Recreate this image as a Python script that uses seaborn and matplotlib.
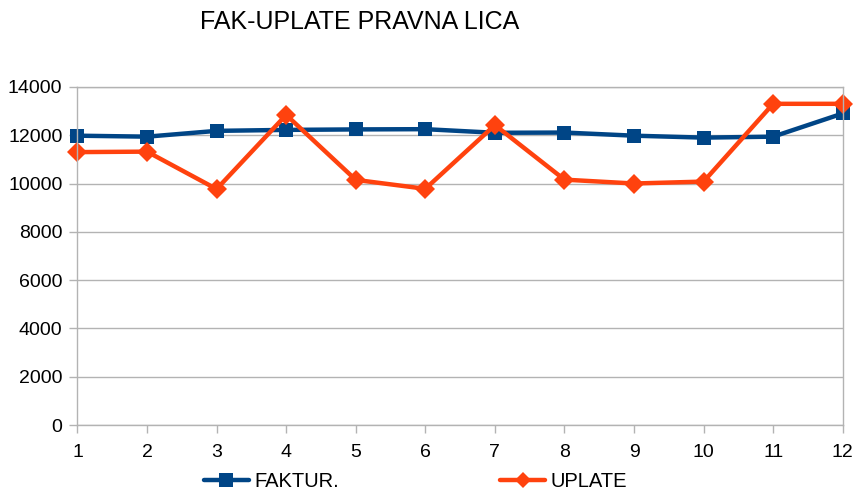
import matplotlib
matplotlib.use("Agg")
import matplotlib.pyplot as plt
import seaborn as sns
import pandas as pd
from matplotlib.lines import Line2D

months = [1, 2, 3, 4, 5, 6, 7, 8, 9, 10, 11, 12]
faktur = [11980, 11940, 12180, 12220, 12240, 12250, 12100, 12110, 11980, 11900, 11940, 12900]
uplate = [11300, 11320, 9770, 12840, 10150, 9780, 12420, 10160, 10000, 10080, 13300, 13300]
y_ticks = [0, 2000, 4000, 6000, 8000, 10000, 12000, 14000]

sns.set_theme(style="white")
plt.rcParams['font.family'] = ['Liberation Sans', 'DejaVu Sans']
plt.rcParams['text.color'] = 'black'

df = pd.DataFrame({"x": months * 2,
                   "y": faktur + uplate,
                   "s": ["FAKTUR."] * 12 + ["UPLATE"] * 12})

fig = plt.figure(figsize=(8.56, 4.91), dpi=100)
ax = fig.add_axes([0.0905, 0.1344, 0.894, 0.6886])

sns.lineplot(data=df, x="x", y="y", hue="s", style="s",
             palette={"FAKTUR.": "#004586", "UPLATE": "#ff420e"},
             markers={"FAKTUR.": "s", "UPLATE": "D"},
             dashes=False, linewidth=3.2, markersize=10,
             markeredgewidth=0, ax=ax, legend=False)

ax.set_xlim(1, 12)
ax.set_ylim(0, 14000)
ax.set_xticks(months)
ax.set_yticks(y_ticks)
ax.tick_params(axis='both', labelsize=14, labelcolor='black', colors='#b3b3b3',
               length=5.8, width=1, direction='out')
ax.tick_params(axis='x', pad=8, bottom=True)
ax.tick_params(axis='y', pad=5, left=True)
ax.yaxis.grid(True, color='#b3b3b3', linewidth=1)
ax.set_axisbelow(True)
for sp in ax.spines.values():
    sp.set_color('#b3b3b3')
    sp.set_linewidth(1)
ax.set_xlabel("")
ax.set_ylabel("")
for l in ax.lines:
    l.set_clip_on(False)

fig.text(0.42, 0.955, "FAK-UPLATE PRAVNA LICA", ha='center', va='center',
         fontsize=18, color='black')

h1 = Line2D([], [], color="#004586", lw=3.2, marker='s', markersize=10, markeredgewidth=0)
h2 = Line2D([], [], color="#ff420e", lw=3.2, marker='D', markersize=8, markeredgewidth=0)
fig.legend([h1], ["FAKTUR."], loc='center left', bbox_to_anchor=(0.238, 0.02),
           frameon=False, fontsize=14.5, handlelength=2.25, handletextpad=0.25,
           borderaxespad=0, borderpad=0)
fig.legend([h2], ["UPLATE"], loc='center left', bbox_to_anchor=(0.584, 0.02),
           frameon=False, fontsize=14.5, handlelength=2.25, handletextpad=0.25,
           borderaxespad=0, borderpad=0)

fig.savefig("out.png", dpi=100)
